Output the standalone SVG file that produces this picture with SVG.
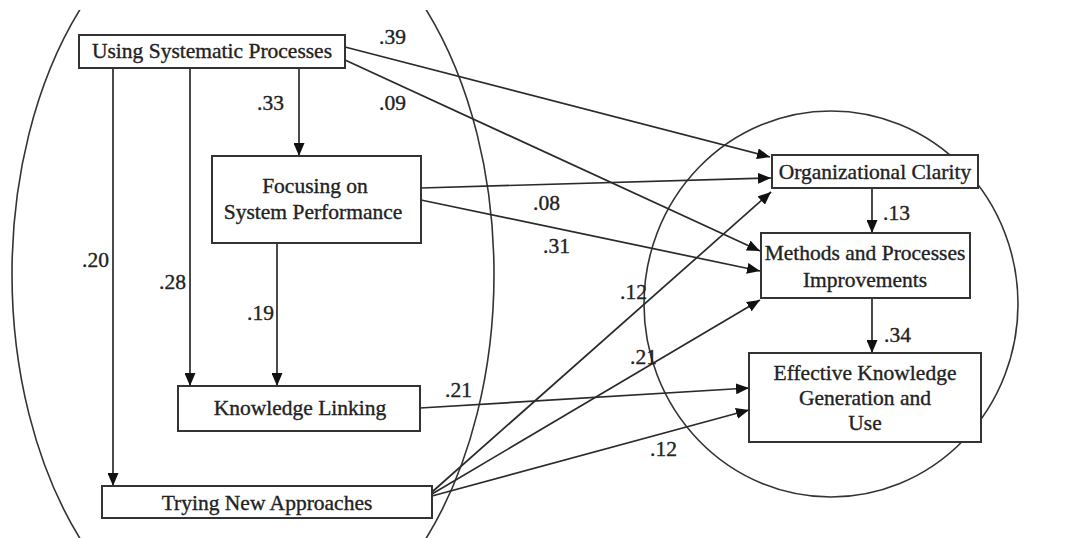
<svg xmlns="http://www.w3.org/2000/svg" width="1085" height="538" viewBox="0 0 1085 538">
<style>
.box{fill:#fff;stroke:#333;stroke-width:2}
.t{font-family:"Liberation Serif","Times New Roman",serif;font-size:21.5px;fill:#222;stroke:#222;stroke-width:0.35;text-anchor:middle}
.lbl{font-family:"Liberation Serif","Times New Roman",serif;font-size:21.5px;fill:#222;stroke:#222;stroke-width:0.35}
.c{fill:none;stroke:#2a2a2a;stroke-width:1.7}
.g{fill:none;stroke:#333;stroke-width:1.6}
</style>
<defs>
<marker id="ah" markerUnits="userSpaceOnUse" markerWidth="13" markerHeight="11" refX="13" refY="5.5" orient="auto">
<path d="M0,0 L13,5.5 L0,11 z" fill="#111"/>
</marker>
<clipPath id="clip"><rect x="0" y="10" width="1085" height="528"/></clipPath>
</defs>
<rect width="1085" height="538" fill="#fff"/>
<g id="groups">
<ellipse class="g" cx="253" cy="274" rx="241" ry="380" clip-path="url(#clip)"/>
<ellipse class="g" cx="831" cy="304" rx="187" ry="193"/>
</g>
<g id="connectors">
<line class="c" x1="345" y1="47" x2="770" y2="157" marker-end="url(#ah)"/>
<line class="c" x1="345" y1="60" x2="760" y2="251" marker-end="url(#ah)"/>
<line class="c" x1="299" y1="68" x2="299" y2="156" marker-end="url(#ah)"/>
<line class="c" x1="113" y1="68" x2="113" y2="486" marker-end="url(#ah)"/>
<line class="c" x1="190" y1="68" x2="190" y2="386" marker-end="url(#ah)"/>
<line class="c" x1="277" y1="243" x2="277" y2="386" marker-end="url(#ah)"/>
<line class="c" x1="421" y1="188" x2="771" y2="178" marker-end="url(#ah)"/>
<line class="c" x1="421" y1="200" x2="760" y2="271" marker-end="url(#ah)"/>
<line class="c" x1="872" y1="188" x2="872" y2="233" marker-end="url(#ah)"/>
<line class="c" x1="872" y1="298" x2="872" y2="353" marker-end="url(#ah)"/>
<line class="c" x1="420" y1="408" x2="749" y2="388" marker-end="url(#ah)"/>
<line class="c" x1="432" y1="492" x2="771" y2="192" marker-end="url(#ah)"/>
<line class="c" x1="432" y1="494" x2="760" y2="300" marker-end="url(#ah)"/>
<line class="c" x1="432" y1="496" x2="749" y2="410" marker-end="url(#ah)"/>
<text class="lbl" x="379" y="44">.39</text>
<text class="lbl" x="379" y="110">.09</text>
<text class="lbl" x="257" y="110">.33</text>
<text class="lbl" x="82" y="267">.20</text>
<text class="lbl" x="159" y="289">.28</text>
<text class="lbl" x="247" y="320">.19</text>
<text class="lbl" x="533" y="210">.08</text>
<text class="lbl" x="543" y="253">.31</text>
<text class="lbl" x="883" y="220">.13</text>
<text class="lbl" x="884" y="342">.34</text>
<text class="lbl" x="445" y="397">.21</text>
<text class="lbl" x="620" y="299">.12</text>
<text class="lbl" x="630" y="364">.21</text>
<text class="lbl" x="650" y="456">.12</text>
</g>
<g id="usp">
<rect class="box" x="79" y="35" width="266" height="33"/>
<text class="t" x="212" y="58">Using Systematic Processes</text>
</g>
<g id="fsp">
<rect class="box" x="212" y="156" width="209" height="87"/>
<text class="t" x="315" y="193">Focusing on</text>
<text class="t" x="313" y="219">System Performance</text>
</g>
<g id="kl">
<rect class="box" x="178" y="386" width="242" height="45"/>
<text class="t" x="300" y="415">Knowledge Linking</text>
</g>
<g id="tna">
<rect class="box" x="102" y="486" width="330" height="32"/>
<text class="t" x="267" y="510">Trying New Approaches</text>
</g>
<g id="oc">
<rect class="box" x="772" y="155" width="206" height="33"/>
<text class="t" x="875" y="179">Organizational Clarity</text>
</g>
<g id="mpi">
<rect class="box" x="761" y="233" width="209" height="65"/>
<text class="t" x="865" y="260">Methods and Processes</text>
<text class="t" x="865" y="287">Improvements</text>
</g>
<g id="ekgu">
<rect class="box" x="749" y="353" width="232" height="89"/>
<text class="t" x="865" y="380">Effective Knowledge</text>
<text class="t" x="865" y="405">Generation and</text>
<text class="t" x="865" y="430">Use</text>
</g>
</svg>
